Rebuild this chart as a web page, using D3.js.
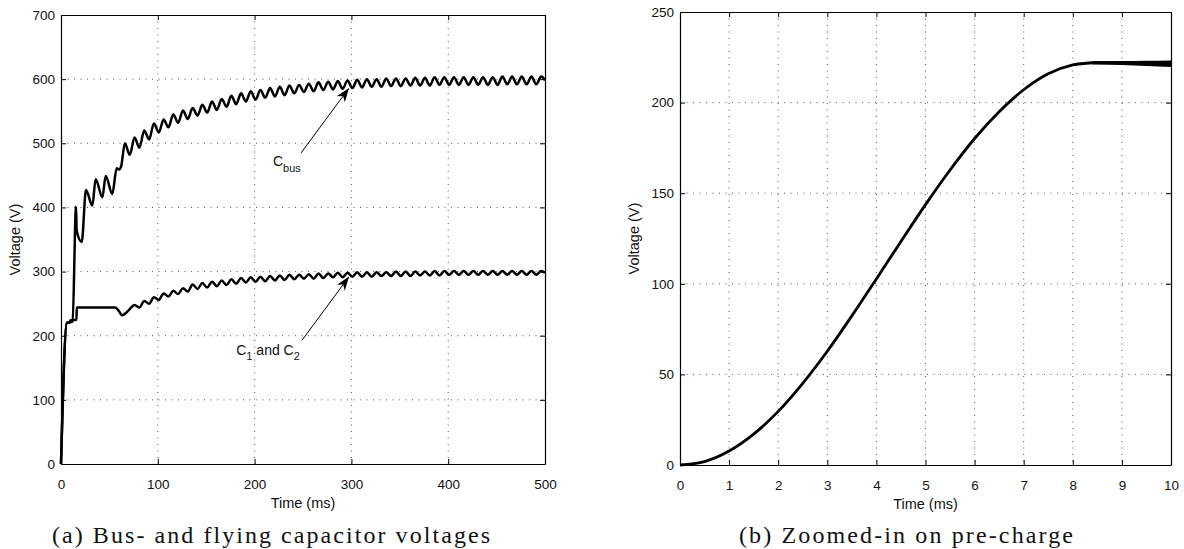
<!DOCTYPE html>
<html lang="en">
<head>
<meta charset="UTF-8">
<title>Bus- and flying capacitor voltages</title>
<style>
  body { margin: 0; padding: 0; background: #fff; }
  svg { display: block; }
  .tick text { font-family: 'Liberation Sans', Arial, sans-serif; font-size: 13.5px; fill: #111; }
  .axis-label { font-family: 'Liberation Sans', Arial, sans-serif; font-size: 14.5px; fill: #111; }
  .note { font-family: 'Liberation Sans', Arial, sans-serif; font-size: 14px; fill: #111; }
  .caption { font-family: 'Liberation Serif', 'Times New Roman', serif; font-size: 24px; fill: #111; }
  .grid line { stroke: #555; stroke-width: 1; stroke-dasharray: 1,5.5; }
</style>
</head>
<body>
<div id="chart"></div>
<script src="https://d3js.org/d3.v7.min.js"></script>
<script>
// ---- panel (a): bus and flying capacitor voltages, time in ms ----
const busTime = [0, 6, 12, 15.5, 16.2, 21.4, 25.8, 32.4, 35.8, 42.7, 46.2, 53, 57.5, 60, 62,
  66, 71, 76, 81, 86, 91, 96, 101, 106, 111, 116, 121, 126, 131, 136, 141, 146, 151,
  156, 161, 166, 171, 176, 181, 186, 191, 196, 201, 206, 211, 216, 221, 226, 231,
  236, 241, 246, 251, 256, 261, 266, 271, 276, 281, 286, 291, 296, 301, 306, 311,
  316, 321, 326, 331, 336, 341, 346, 351, 356, 361, 366, 371, 376, 381, 386, 391,
  396, 401, 406, 411, 416, 421, 426, 431, 436, 441, 446, 451, 456, 461, 466, 471,
  476, 481, 486, 491, 496, 500];
const busVolt = [0, 220, 222, 401, 364, 346, 427, 403, 444, 416, 449, 421, 461, 459, 463,
  500, 482, 509, 493, 520, 506, 531, 517, 537, 525, 545, 532, 551, 538, 555, 543, 560, 548,
  565, 552, 569, 557, 574, 561, 578, 565, 581, 568, 583, 571, 586, 573, 588, 575,
  590, 578, 591, 580, 593, 581, 595, 583, 596, 584, 597, 585, 598, 586, 599, 587,
  600, 588, 600, 588, 601, 589, 601, 589, 601, 590, 602, 590, 602, 590, 603, 591,
  603, 591, 603, 591, 603, 591, 603, 591, 603, 591, 603, 591, 604, 592, 604, 592,
  604, 592, 604, 592, 604, 598];

const flyTime = [0, 6, 9, 10, 16, 16.3, 56, 60, 63, 66, 70,
  76, 81, 86, 91, 96, 101, 106, 111, 116, 121, 126, 131, 136, 141, 146, 151,
  156, 161, 166, 171, 176, 181, 186, 191, 196, 201, 206, 211, 216, 221, 226, 231,
  236, 241, 246, 251, 256, 261, 266, 271, 276, 281, 286, 291, 296, 301, 306, 311,
  316, 321, 326, 331, 336, 341, 346, 351, 356, 361, 366, 371, 376, 381, 386, 391,
  396, 401, 406, 411, 416, 421, 426, 431, 436, 441, 446, 451, 456, 461, 466, 471,
  476, 481, 486, 491, 496, 500];
const flyVolt = [0, 220, 221, 224, 225, 244, 244, 238, 232, 234, 240,
  248, 244, 254, 250, 260, 256, 266, 261, 270, 265, 274, 269, 280, 273, 282, 275,
  284, 277, 286, 279, 288, 281, 290, 283, 291, 284, 292, 285, 293, 286, 294, 287,
  295, 288, 295, 289, 296, 289, 297, 290, 297, 291, 298, 291, 298, 292, 299, 292,
  299, 292, 299, 293, 299, 293, 300, 293, 300, 293, 300, 294, 300, 294, 301, 294,
  301, 295, 301, 295, 301, 295, 301, 295, 301, 295, 301, 295, 301, 295, 301, 295,
  301, 295, 301, 295, 301, 298];

const xTicksA = [0, 100, 200, 300, 400, 500];
const yTicksA = [0, 100, 200, 300, 400, 500, 600, 700];

// ---- panel (b): pre-charge zoom, time in ms ----
const preTime = [0, 0.5, 1, 1.5, 2, 2.5, 3, 3.5, 4, 4.5, 5, 5.5, 6, 6.5, 7, 7.5, 8, 8.4];
const preVolt = [0, 1.9, 7.7, 17.0, 29.6, 45.1, 62.8, 82.3, 102.7, 123.4, 143.7, 162.8,
  180.2, 195.0, 207.1, 215.9, 220.8, 222.0];
const tailTime = [8.4, 9, 9.5, 10];
const tailVoltA = [222.0, 222.2, 222.3, 222.4];
const tailVoltB = [222.0, 221.8, 221.5, 221.1];
const tailVoltC = [222.0, 221.5, 221.0, 220.4];

const xTicksB = [0, 1, 2, 3, 4, 5, 6, 7, 8, 9, 10];
const yTicksB = [0, 50, 100, 150, 200, 250];

const svg = d3.select("#chart").append("svg")
    .attr("width", 1184)
    .attr("height", 549);

svg.append("rect").attr("width", 1184).attr("height", 549).attr("fill", "#fff");

const defs = svg.append("defs");
defs.append("marker")
    .attr("id", "head")
    .attr("viewBox", "0 0 14 10")
    .attr("refX", 13).attr("refY", 5)
    .attr("markerWidth", 14).attr("markerHeight", 10)
    .attr("markerUnits", "userSpaceOnUse")
    .attr("orient", "auto")
  .append("path")
    .attr("d", "M0,0 L14,5 L0,10 L4,5 Z")
    .attr("fill", "#000");

function zip(ts, vs) {
    return ts.map((t, i) => [t, vs[i]]);
}

function drawPanel(box, xDomain, yDomain, xTicks, yTicks, series, lineWidth) {
    const x = d3.scaleLinear().domain(xDomain).range([box.left, box.right]);
    const y = d3.scaleLinear().domain(yDomain).range([box.bottom, box.top]);
    const g = svg.append("g");

    // dotted grid, skip lines that sit on the box
    const grid = g.append("g").attr("class", "grid");
    grid.selectAll(".gx")
        .data(xTicks.filter(t => t !== xDomain[0] && t !== xDomain[1]))
        .enter().append("line")
        .attr("x1", d => x(d)).attr("x2", d => x(d))
        .attr("y1", box.top).attr("y2", box.bottom);
    grid.selectAll(".gy")
        .data(yTicks.filter(t => t !== yDomain[0] && t !== yDomain[1]))
        .enter().append("line")
        .attr("y1", d => y(d)).attr("y2", d => y(d))
        .attr("x1", box.left).attr("x2", box.right);

    const line = d3.line()
        .x(d => x(d[0]))
        .y(d => y(d[1]))
        .curve(d3.curveMonotoneX);

    series.forEach(s => {
        g.append("path")
            .datum(s)
            .attr("fill", "none")
            .attr("stroke", "#000")
            .attr("stroke-width", lineWidth)
            .attr("stroke-linejoin", "round")
            .attr("d", line);
    });

    // box with inward ticks on all four sides
    const axB = g.append("g").attr("transform", `translate(0,${box.bottom})`)
        .call(d3.axisBottom(x).tickValues(xTicks).tickSizeInner(-5).tickSizeOuter(0).tickPadding(15));
    g.append("g").attr("transform", `translate(${box.left},0)`)
        .call(d3.axisLeft(y).tickValues(yTicks).tickSizeInner(-5).tickSizeOuter(0).tickPadding(6));
    g.append("g").attr("transform", `translate(0,${box.top})`)
        .call(d3.axisTop(x).tickValues(xTicks).tickSizeInner(-5).tickSizeOuter(0).tickFormat(""));
    g.append("g").attr("transform", `translate(${box.right},0)`)
        .call(d3.axisRight(y).tickValues(yTicks).tickSizeInner(-5).tickSizeOuter(0).tickFormat(""));

    g.selectAll(".domain").attr("stroke", "#000").attr("stroke-width", 1.2);
    g.selectAll(".tick line").attr("stroke", "#000");
    axB.selectAll("text").attr("dy", "0.72em");

    // axis titles
    g.append("text")
        .attr("class", "axis-label")
        .attr("x", (box.left + box.right) / 2)
        .attr("y", box.bottom + 44)
        .attr("text-anchor", "middle")
        .text("Time (ms)");
    g.append("text")
        .attr("class", "axis-label")
        .attr("transform", `translate(${box.left - 41},${(box.top + box.bottom) / 2}) rotate(-90)`)
        .attr("text-anchor", "middle")
        .text("Voltage (V)");

    return { x, y };
}

// panel (a)
const boxA = { left: 61, right: 545, top: 15, bottom: 464 };
const pa = drawPanel(boxA, [0, 500], [0, 700], xTicksA, yTicksA,
    [zip(flyTime, flyVolt), zip(busTime, busVolt)], 2.5);

// annotations on panel (a)
svg.append("line")
    .attr("x1", pa.x(248)).attr("y1", pa.y(485))
    .attr("x2", pa.x(297)).attr("y2", pa.y(585))
    .attr("stroke", "#000").attr("stroke-width", 1)
    .attr("marker-end", "url(#head)");
const busNote = svg.append("text").attr("class", "note")
    .attr("x", pa.x(219)).attr("y", pa.y(464));
busNote.append("tspan").text("C");
busNote.append("tspan").attr("dy", 6).attr("font-size", 11).text("bus");

svg.append("line")
    .attr("x1", pa.x(249)).attr("y1", pa.y(193))
    .attr("x2", pa.x(297)).attr("y2", pa.y(291))
    .attr("stroke", "#000").attr("stroke-width", 1)
    .attr("marker-end", "url(#head)");
const flyNote = svg.append("text").attr("class", "note")
    .attr("x", pa.x(181)).attr("y", pa.y(170));
flyNote.append("tspan").text("C");
flyNote.append("tspan").attr("dy", 5).attr("font-size", 11).text("1");
flyNote.append("tspan").attr("dy", -5).text(" and C");
flyNote.append("tspan").attr("dy", 5).attr("font-size", 11).text("2");

// panel (b)
const boxB = { left: 680, right: 1171, top: 12, bottom: 465 };
drawPanel(boxB, [0, 10], [0, 250], xTicksB, yTicksB,
    [zip(preTime, preVolt), zip(tailTime, tailVoltA), zip(tailTime, tailVoltB), zip(tailTime, tailVoltC)], 2.8);

// captions
svg.append("text").attr("class", "caption")
    .attr("x", 52).attr("y", 543)
    .attr("textLength", 438).attr("lengthAdjust", "spacing")
    .text("(a) Bus- and flying capacitor voltages");
svg.append("text").attr("class", "caption")
    .attr("x", 739).attr("y", 543)
    .attr("textLength", 334).attr("lengthAdjust", "spacing")
    .text("(b) Zoomed-in on pre-charge");
</script>
</body>
</html>
